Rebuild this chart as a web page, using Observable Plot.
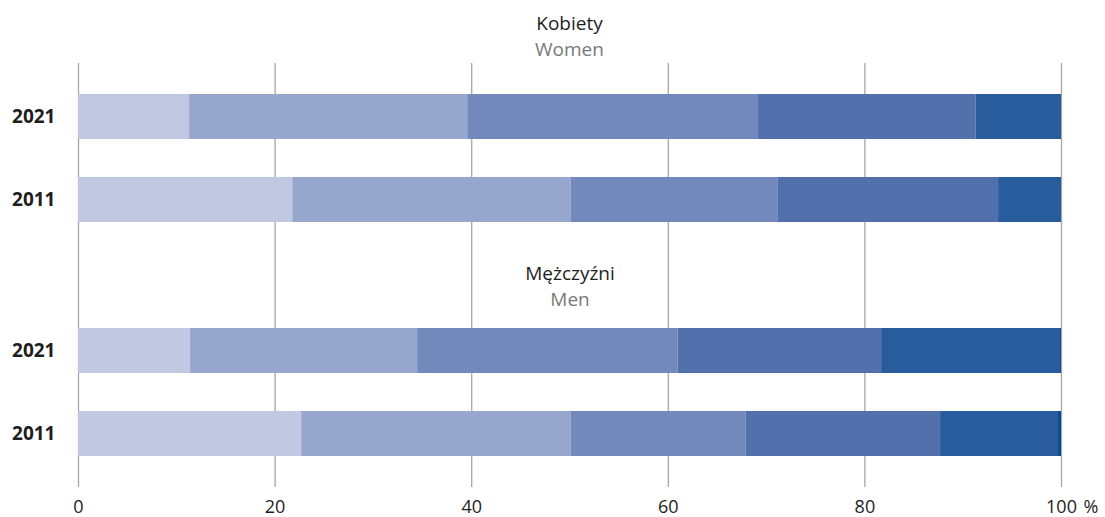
<!DOCTYPE html>
<html>
<head>
<meta charset="utf-8">
<script src="https://cdn.jsdelivr.net/npm/d3@7"></script>
<script src="https://cdn.jsdelivr.net/npm/@observablehq/plot@0.6"></script>
<style>
  html, body { margin: 0; padding: 0; background: #fff; }
  body { font-family: "Open Sans", "Noto Sans", sans-serif; width: 1105px; height: 517px; overflow: hidden; }
  .title { box-sizing: border-box; height: 63px; padding: 10px 44px 0 78px; text-align: center; font-size: 19px; line-height: 26px; }
  .title .pl { color: #1e1e1e; }
  .title .en { color: #7a7a7a; }
  svg { display: block; font-family: "Open Sans", "Noto Sans", sans-serif; }
  g[aria-label="y-axis tick label"] text { font-weight: bold; }
</style>
</head>
<body>
<div id="chart"></div>
<script>
// ---- data ----
const groupsPl = ["Kobiety", "Mężczyźni"];
const groupsEn = ["Women", "Men"];
const years = ["2021", "2011"];
const classes = ["Grupa 1", "Grupa 2", "Grupa 3", "Grupa 4", "Grupa 5", "Grupa 6"];
const women2021 = [11.3, 28.3, 29.5, 22.2, 8.7, 0.0];
const women2011 = [21.8, 28.3, 21.1, 22.4, 6.4, 0.0];
const men2021   = [11.4, 23.1, 26.5, 20.7, 18.2, 0.1];
const men2011   = [22.7, 27.4, 17.8, 19.8, 12.0, 0.3];
const xTicks = [0, 20, 40, 60, 80, 100];
const unitLabel = "%";
const colors = ["#c1c9e2", "#97a6cd", "#7389bb", "#5270ab", "#285c9c", "#0b4791"];

function rows(year, values) {
  return values.map((v, i) => ({year, cls: classes[i], value: v}));
}
const women = [...rows("2021", women2021), ...rows("2011", women2011)];
const men = [...rows("2021", men2021), ...rows("2011", men2011)];

const root = document.getElementById("chart");
const W = 1105, ML = 78, MR = 44;
const common = {
  width: W,
  marginLeft: ML,
  marginRight: MR,
  style: {fontSize: "19px", color: "#1e1e1e", background: "#fff"},
  color: {domain: classes, range: colors}
};
const grid = Plot.ruleX(xTicks, {x: d => d, stroke: "#a6a6a6", strokeWidth: 1.3});

// title above
const t = document.createElement("div");
t.className = "title";
t.innerHTML = `<div class="pl">${groupsPl[0]}</div><div class="en">${groupsEn[0]}</div>`;
root.appendChild(t);

// chart 1 (women)
const c1 = Plot.plot({
  ...common,
  height: 187,
  marginTop: 0,
  marginBottom: 0,
  x: {domain: [0, 100], axis: null},
  y: {type: "band", domain: years, range: [31.3, 159.8], padding: 0.452, paddingOuter: 0, label: null},
  marks: [
    grid,
    Plot.barX(women, Plot.stackX({x: "value", y: "year", fill: "cls", order: null})),
    Plot.axisY({tickSize: 0, tickPadding: 23, fontSize: 19, label: null})
  ]
});
root.appendChild(c1);

// chart 2 (men)
const c2 = Plot.plot({
  ...common,
  height: 267,
  marginTop: 0,
  marginBottom: 30,
  x: {domain: [0, 100], label: null},
  y: {type: "band", domain: years, range: [77.3, 206.6], padding: 0.455, paddingOuter: 0, label: null},
  marks: [
    grid,
    Plot.barX(men, Plot.stackX({x: "value", y: "year", fill: "cls", order: null})),
    Plot.text([groupsPl[1]], {frameAnchor: "top", lineAnchor: "middle", dy: 23, fontSize: 19, fill: "#1e1e1e"}),
    Plot.text([groupsEn[1]], {frameAnchor: "top", lineAnchor: "middle", dy: 49, fontSize: 19, fill: "#7a7a7a"}),
    Plot.axisY({tickSize: 0, tickPadding: 23, fontSize: 19, label: null}),
    Plot.axisX({ticks: xTicks, tickSize: 0, tickPadding: 13, fontSize: 18, tickFormat: d => String(d), label: null}),
    Plot.text([xTicks[xTicks.length - 1]], {x: d => d, text: () => unitLabel, frameAnchor: "bottom", lineAnchor: "top", textAnchor: "start", dy: 13, dx: 22, fontSize: 18, fill: "#1e1e1e"})
  ]
});
root.appendChild(c2);
</script>
</body>
</html>
